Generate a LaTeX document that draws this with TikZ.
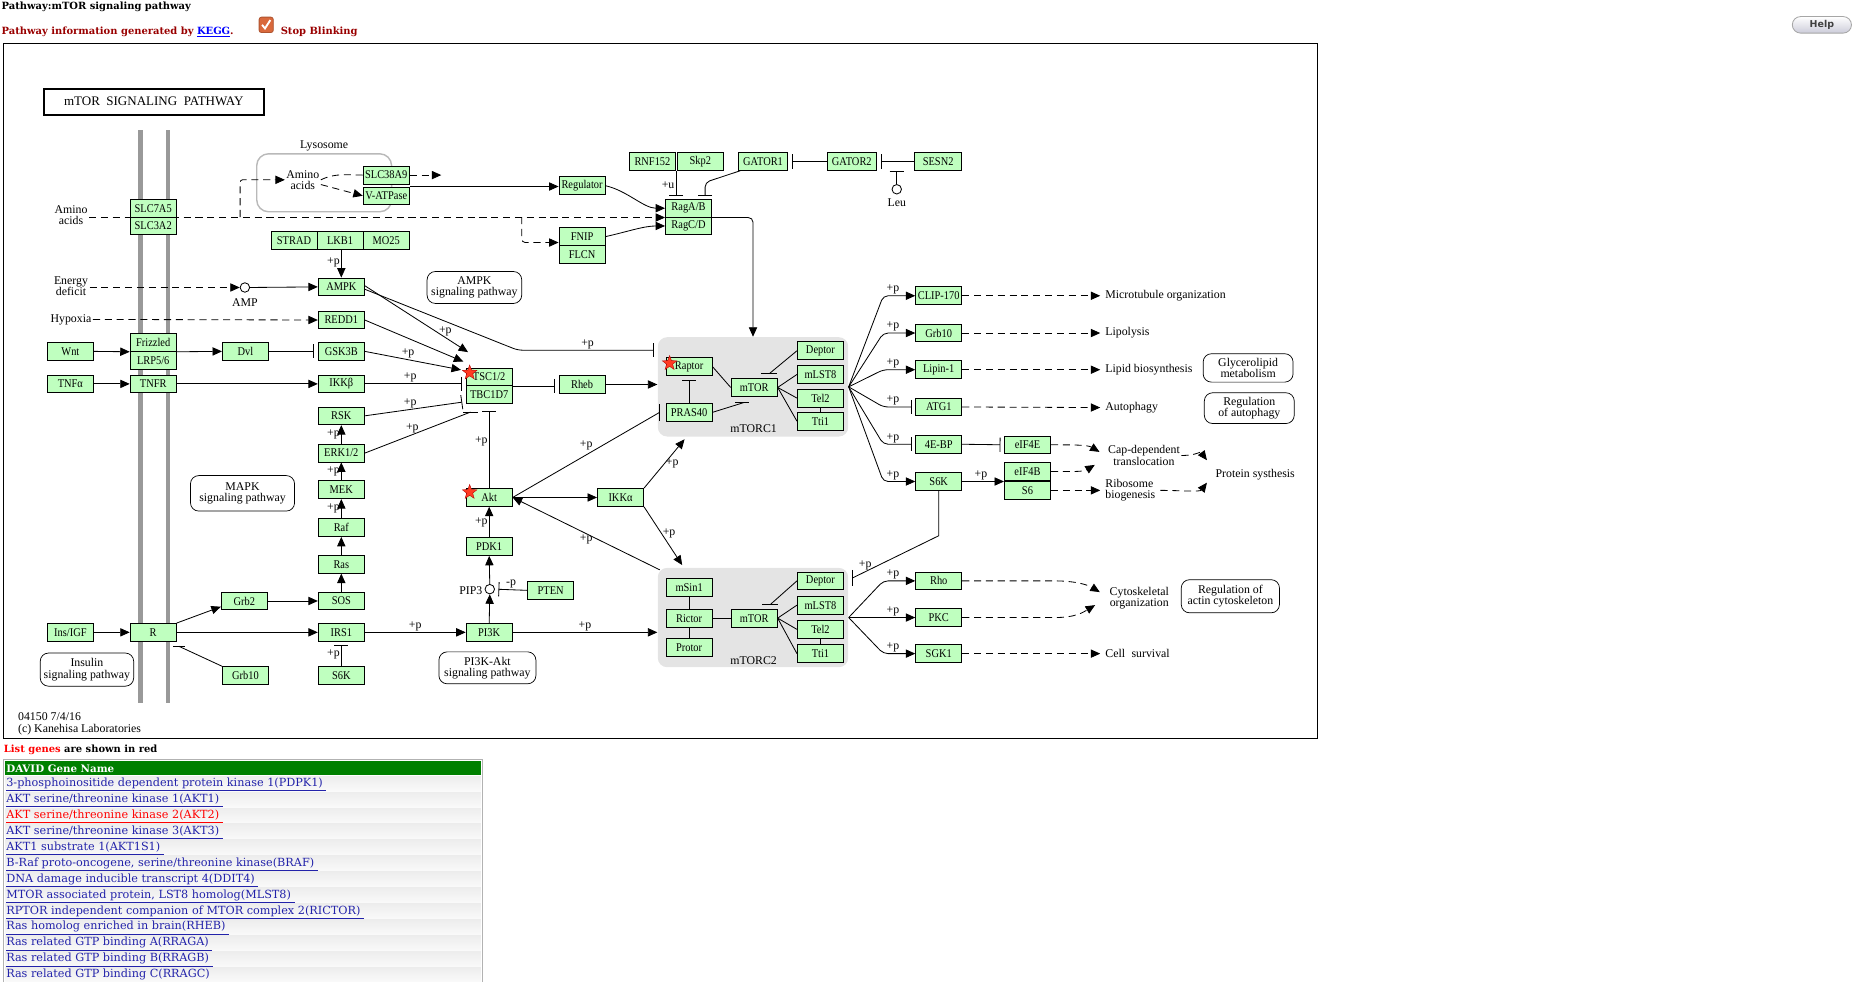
\documentclass[tikz,border=0pt]{standalone}
\usepackage{fontspec}
\setmainfont{Liberation Serif}
\newfontfamily\genefont{Liberation Serif}[FakeStretch=0.88]
\newfontfamily\webfont{DejaVu Serif}
\newfontfamily\btnfont{DejaVu Sans}
\usetikzlibrary{arrows.meta,shapes.geometric,calc}

\definecolor{genegreen}{HTML}{BFFFBF}
\definecolor{complexgray}{HTML}{E4E4E4}
\definecolor{webred}{HTML}{990000}
\definecolor{linkblue}{HTML}{2222AA}
\definecolor{davidgreen}{HTML}{008000}
\definecolor{starred}{HTML}{FF3B22}
\definecolor{boxorange}{HTML}{D9693C}

\tikzset{
  gene/.style={draw, fill=genegreen, line width=0.7pt, minimum width=39pt, minimum height=15pt,
    inner sep=0pt, font=\genefont\fontsize{10}{10}\selectfont},
  complex/.style={fill=complexgray, rounded corners=8pt, minimum width=161pt, minimum height=84pt},
  txt/.style={inner sep=1pt, align=center, font=\fontsize{10}{9.5}\selectfont},
  outc/.style={txt, anchor=west, inner xsep=4pt},
  lbl/.style={inner sep=1pt, font=\fontsize{10}{10}\selectfont},
  mapbox/.style={draw, rounded corners=7pt, align=center, inner sep=1pt, line width=0.6pt,
    font=\fontsize{10}{9.5}\selectfont},
  cpd/.style={circle, draw, fill=white, inner sep=0pt, minimum size=8pt, line width=0.7pt},
  redstar/.style={star, star points=5, star point ratio=2.4, fill=starred, draw=red!70!black,
    line width=0.3pt, minimum size=13pt, inner sep=0pt},
  act/.style={line width=0.7pt, -{Triangle[length=8pt,width=7pt]}},
  dact/.style={line width=0.7pt, dash pattern=on 6pt off 4pt, -{Triangle[length=8pt,width=7pt]}},
  dline/.style={line width=0.7pt, dash pattern=on 6pt off 4pt},
  inh/.style={line width=0.7pt, -{Bar[width=12pt]}, shorten >=3pt},
  membrane/.style={line width=4pt, gray!80},
  web/.style={inner sep=1pt, font=\webfont\fontsize{8.4}{9}\selectfont},
  link/.style={inner sep=1pt, anchor=west, text=linkblue, font=\webfont\fontsize{9.5}{10}\selectfont},
  rowband/.style={top color=gray!14, middle color=white, bottom color=gray!4}
}

\begin{document}
\begin{tikzpicture}[x=1pt, y=-1pt, line width=0.7pt]
\useasboundingbox (0,0) rectangle (1568,830);

% page header
\node[web, anchor=west] (pagetitle) at (0,5.5) {\bfseries Pathway:mTOR signaling pathway};
\node[web, anchor=west, text=webred] (info) at (0,27) {\bfseries Pathway information generated by \textcolor{blue}{\underline{KEGG}}.};
\node[draw=boxorange!80!black, fill=boxorange, rounded corners=2pt, minimum width=12pt, minimum height=13pt, inner sep=0pt] (chk) at (225,21) {};
\draw[white, line width=1.6pt] ($(chk)+(-3.5,0)$) -- ($(chk)+(-1,3)$) -- ($(chk)+(3.5,-4)$);
\node[web, anchor=west, text=webred] (stopblink) at (236,27) {\bfseries Stop Blinking};
\node[draw=gray!70, rounded corners=7pt, top color=white, bottom color=blue!15!gray!35, minimum width=50pt,
  minimum height=14pt, inner sep=0pt, text=black!75, font=\btnfont\bfseries\fontsize{8}{8}\selectfont] (help) at (1540,21) {Help};

% map frame
\draw[line width=0.8pt] (3,37) rectangle (1114,624);
\node[draw, line width=1.4pt, minimum width=186pt, minimum height=22pt, inner sep=0pt,
  font=\fontsize{11}{12}\selectfont] (title) at (130,86) {mTOR\ \ SIGNALING\ \ PATHWAY};

% cell membrane and lysosome
\draw[membrane] (119,110) -- (119,594);
\draw[membrane] (142,110) -- (142,594);
\draw[gray!55, line width=1.2pt, rounded corners=10pt] (217,130) rectangle (331,179);
\node[txt] (lysolbl) at (274,123) {Lysosome};

% complexes
\node[complex] (mtorc1) at (636.5,327) {};
\node[complex] (mtorc2) at (636.5,522) {};
\node[txt] (mtorc1lbl) at (637,362) {mTORC1};
\node[txt] (mtorc2lbl) at (637,558) {mTORC2};

% genes
\node[gene] (slc7a5) at (129.5,176) {SLC7A5};
\node[gene] (slc3a2) at (129.5,191) {SLC3A2};
\node[gene] (frizzled) at (129.5,289.5) {Frizzled};
\node[gene] (lrp) at (129.5,304.5) {LRP5/6};
\node[gene] (tnfr) at (129.5,324.5) {TNFR};
\node[gene] (rrec) at (129.5,534.5) {R};
\node[gene] (wnt) at (59.5,297) {Wnt};
\node[gene] (tnfa) at (59.5,324.5) {TNFα};
\node[gene] (insigf) at (59.5,534.5) {Ins/IGF};
\node[gene] (dvl) at (207.5,297) {Dvl};
\node[gene] (grb2) at (206.5,508) {Grb2};
\node[gene] (grb10a) at (207.5,571) {Grb10};

\node[gene] (strad) at (248.5,203) {STRAD};
\node[gene] (lkb1) at (287.5,203) {LKB1};
\node[gene] (mo25) at (326.5,203) {MO25};
\node[gene] (ampk) at (288.5,242.5) {AMPK};
\node[gene] (redd1) at (288.5,270.5) {REDD1};
\node[gene] (gsk3b) at (288.5,297) {GSK3B};
\node[gene] (ikkb) at (288.5,324.5) {IKKβ};
\node[gene] (rsk) at (288.5,351.5) {RSK};
\node[gene] (erk) at (288.5,383) {ERK1/2};
\node[gene] (mek) at (288.5,414) {MEK};
\node[gene] (raf) at (288.5,446) {Raf};
\node[gene] (ras) at (288.5,477) {Ras};
\node[gene] (sos) at (288.5,508) {SOS};
\node[gene] (irs1) at (288.5,534.5) {IRS1};
\node[gene] (s6kb) at (288.5,571) {S6K};

\node[gene] (tsc) at (413.5,318.5) {TSC1/2};
\node[gene] (tbc) at (413.5,333.5) {TBC1D7};
\node[gene] (akt) at (413.5,420.5) {Akt};
\node[gene] (pdk1) at (413.5,462) {PDK1};
\node[gene] (pi3k) at (413.5,534.5) {PI3K};
\node[gene] (pten) at (465.5,499) {PTEN};
\node[gene] (ikka) at (524.5,420.5) {IKKα};
\node[gene] (rheb) at (492,325) {Rheb};

\node[gene] (slc38) at (326.5,148) {SLC38A9};
\node[gene] (vatp) at (326.5,165.5) {V-ATPase};
\node[gene] (regulator) at (492,157) {Regulator};
\node[gene] (fnip) at (492,200) {FNIP};
\node[gene] (flcn) at (492,215) {FLCN};
\node[gene] (ragab) at (582,176) {RagA/B};
\node[gene] (ragcd) at (582,191) {RagC/D};
\node[gene] (rnf152) at (551.5,136.5) {RNF152};
\node[gene] (skp2) at (592,136.5) {Skp2};
\node[gene, minimum width=42pt] (gator1) at (645,136.5) {GATOR1};
\node[gene, minimum width=42pt] (gator2) at (720,136.5) {GATOR2};
\node[gene, minimum width=40pt] (sesn2) at (793,136.5) {SESN2};

\node[gene] (raptor) at (582.5,310) {Raptor};
\node[gene] (pras40) at (582.5,348.5) {PRAS40};
\node[gene] (mtor1) at (637.5,327.5) {mTOR};
\node[gene] (deptor1) at (693.5,296.5) {Deptor};
\node[gene] (mlst1) at (693.5,316.5) {mLST8};
\node[gene] (tel1) at (693.5,336.5) {Tel2};
\node[gene] (tti1) at (693.5,356) {Tti1};

\node[gene] (msin1) at (582.5,496.5) {mSin1};
\node[gene] (rictor) at (582.5,522.5) {Rictor};
\node[gene] (protor) at (582.5,547.5) {Protor};
\node[gene] (mtor2) at (637.5,522.5) {mTOR};
\node[gene] (deptor2) at (693.5,491) {Deptor};
\node[gene] (mlst2) at (693.5,511.5) {mLST8};
\node[gene] (tel2b) at (693.5,532) {Tel2};
\node[gene] (tti2) at (693.5,552.5) {Tti1};

\node[gene] (clip) at (793.5,250) {CLIP-170};
\node[gene] (grb10b) at (793.5,281.5) {Grb10};
\node[gene] (lipin) at (793.5,312.5) {Lipin-1};
\node[gene] (atg1) at (793.5,344) {ATG1};
\node[gene] (ebp) at (793.5,375.5) {4E-BP};
\node[gene] (s6ka) at (793.5,407) {S6K};
\node[gene] (eif4e) at (868.5,376) {eIF4E};
\node[gene] (eif4b) at (868.5,398.5) {eIF4B};
\node[gene] (s6) at (868.5,414.5) {S6};
\node[gene] (rho) at (793.5,491) {Rho};
\node[gene] (pkc) at (793.5,522) {PKC};
\node[gene] (sgk1) at (793.5,552.5) {SGK1};

% compounds and free text
\node[cpd] (amp) at (207,243) {};
\node[cpd] (leu) at (758,160) {};
\node[cpd] (pip3) at (414,498) {};
\node[txt] (amplbl) at (207,256) {AMP};
\node[txt] (leulbl) at (758,171) {Leu};
\node[txt, anchor=east] (pip3lbl) at (409,499) {PIP3};
\node[txt] (aaout) at (60,182) {Amino\\acids};
\node[txt] (aain) at (256,152) {Amino\\acids};
\node[txt] (energy) at (60,242) {Energy\\deficit};
\node[txt] (hypoxia) at (60,270) {Hypoxia};

\node[outc] (microtub) at (930,250) {Microtubule organization};
\node[outc] (lipolysis) at (930,281.5) {Lipolysis};
\node[outc] (lipidbio) at (930,312.5) {Lipid biosynthesis};
\node[outc] (autophagy) at (930,344.5) {Autophagy};
\node[outc, align=left] (ribo) at (930,414.5) {Ribosome\\biogenesis};
\node[outc] (cellsurv) at (930,552.5) {Cell\hspace{3pt} survival};
\node[txt] (capdep) at (967,385) {Cap-dependent\\translocation};
\node[txt] (protsyn) at (1061,401) {Protein systhesis};
\node[txt] (cytoskel) at (963,505.5) {Cytoskeletal\\organization};

% linked pathway maps
\node[mapbox, minimum width=80pt, minimum height=27pt] (ampkmap) at (401,243) {AMPK\\signaling pathway};
\node[mapbox, minimum width=88pt, minimum height=30pt] (mapkmap) at (205,417) {MAPK\\signaling pathway};
\node[mapbox, minimum width=79pt, minimum height=28pt] (insmap) at (73.5,566) {Insulin\\signaling pathway};
\node[mapbox, minimum width=82pt, minimum height=27pt] (pi3kmap) at (412,564.5) {PI3K-Akt\\signaling pathway};
\node[mapbox, minimum width=76pt, minimum height=24pt] (glymap) at (1055,311) {Glycerolipid\\metabolism};
\node[mapbox, minimum width=76pt, minimum height=26pt] (autmap) at (1056,345) {Regulation\\of autophagy};
\node[mapbox, minimum width=83pt, minimum height=28pt] (actmap) at (1040,504) {Regulation of\\actin cytoskeleton};

% amino acid sensing
\coordinate (lysbr) at (203,183.5);
\coordinate (fnipbr) at (441,183.5);
\coordinate (slcout) at (373,148);
\draw[dact] (aaout.east |- ragab.south west) -- (ragab.south west);
\draw[dact, rounded corners=2pt] (lysbr) |- (aain.west);
\draw[dact, rounded corners=3pt] (fnipbr) |- ($(fnip.west)+(0,5)$);
\draw[dline] (aain.east) .. controls +(12,-6) and +(-12,0) .. (slc38.west);
\draw[dact] ($(aain.east)+(0,4)$) -- (vatp.west);
\draw[dact] (slc38.east) -- (slcout);
\draw[act] (vatp.north east) -- (vatp.north east -| regulator.west);
\draw[act] (regulator.east) .. controls +(18,4) and +(-18,0) .. (ragab.west);
\draw[act] (fnip.east) .. controls +(18,-4) and +(-18,0) .. (ragcd.west);
\draw[act, rounded corners=4pt] (ragab.south east) -| (mtorc1.north);
\draw[inh] (rnf152.south east) -- node[lbl, left, pos=.5] (pu) {+u} (rnf152.south east |- ragab.north);
\draw[inh, rounded corners=4pt] ($(gator1.south west)+(2,0)$) -- ($(ragab.north)+(14,-14)$) -- ($(ragab.north)+(14,0)$);
\draw[inh] (gator2.west) -- (gator1.east);
\draw[inh] (sesn2.west) -- (gator2.east);
\draw[-{Bar[width=12pt]}] (leu.north) -- (leu.north |- sesn2.south);

% energy, hypoxia, Wnt, TNF
\draw[act] (ampk.north |- lkb1.south) -- node[lbl, left, pos=.45] (plkb) {+p} (ampk.north);
\draw[dact] (energy.east |- amp.west) -- (amp.west);
\draw[act] (amp.east) -- (ampk.west);
\draw[dact] (hypoxia.east) -- (redd1.west);
\draw[act] (wnt.east) -- (frizzled.south west);
\draw[act] (frizzled.south east) -- (dvl.west);
\draw[inh] (dvl.east) -- (gsk3b.west);
\draw[act] (tnfa.east) -- (tnfr.west);
\draw[act] (tnfr.east) -- (ikkb.west);

% inputs to TSC
\draw[act] ($(ampk.east)+(0,-1)$) -- node[lbl, above, pos=.78] (pampk) {+p} ($(tsc.north west)+(2,-13)$);
\draw[act] (redd1.east) -- ($(tsc.north west)+(-2,-5)$);
\draw[act] (gsk3b.east) -- node[lbl, above, pos=.45] (pgsk) {+p} ($(tsc.north west)+(-4,2)$);
\draw[inh, rounded corners=4pt] ($(ampk.east)+(0,2)$) -- ($(mtorc1.west)+(-118,-31)$) -- node[lbl, above, pos=.5] (pampkr) {+p} ($(mtorc1.west)+(0,-31)$);
\draw[inh] (ikkb.east) -- node[lbl, above, pos=.45] (pikkb) {+p} (ikkb.east -| tsc.west);
\draw[inh] (rsk.east) -- node[lbl, above, pos=.45] (prsk) {+p} ($(tbc.west)+(0,6)$);
\coordinate (erkbar) at ($(tbc.south west)+(4,7)$);
\draw (erk.east) -- node[lbl, above, pos=.45] (perk) {+p} (erkbar);
\draw ($(erkbar)+(-6,0)$) -- ($(erkbar)+(6,0)$);
\draw[inh, shorten >=6pt] (akt.north) -- node[lbl, left, pos=.55] (paktt) {+p} (tbc.south);
\draw[inh] (tsc.south east) -- (tsc.south east -| rheb.west);
\draw[act] (rheb.east) -- (rheb.east -| mtorc1.west);

% Akt and PI3K
\draw[act] (akt.east) -- (ikka.west);
\coordinate (prasbar) at ($(pras40.west)+(-5,0)$);
\draw (akt.east) -- node[lbl, above=3pt, pos=.5] (paktp) {+p} (prasbar);
\draw ($(prasbar)+(0,-7)$) -- ($(prasbar)+(0,7)$);
\draw[act] (ikka.north east) -- node[lbl, right, pos=.5] (pikka1) {+p} ($(mtorc1.south west)+(23,2)$);
\draw[act] (ikka.south east) -- node[lbl, right, pos=.45] (pikka2) {+p} ($(mtorc2.north west)+(21,-2)$);
\draw[act] ($(mtorc2.north west)+(2,2)$) -- node[lbl, below, pos=.5] (pc2akt) {+p} (akt.east);
\draw[act] (pdk1.north) -- node[lbl, left, pos=.5] (ppdk) {+p} (akt.south);
\draw[act] (pip3.north) -- (pdk1.south);
\draw[act] (pi3k.north) -- (pip3.south);
\draw[inh] (pten.west) -- node[lbl, above, pos=.5] (ppten) {-p} (pip3.east);

% insulin and MAPK branch
\draw[act] (insigf.east) -- (rrec.west);
\draw[act] (rrec.north east) -- ($(grb2.south west)+(0,-3)$);
\draw[act] (rrec.east) -- (irs1.west);
\draw[act] (grb2.east) -- (sos.west);
\draw[act] (sos.north) -- (ras.south);
\draw[act] (ras.north) -- (raf.south);
\draw[act] (raf.north) -- node[lbl, left] (praf) {+p} (mek.south);
\draw[act] (mek.north) -- node[lbl, left] (pmek) {+p} (erk.south);
\draw[act] (erk.north) -- node[lbl, left] (perkr) {+p} (rsk.south);
\draw[act] (irs1.east) -- node[lbl, above] (pirs) {+p} (pi3k.west);
\draw[act] (pi3k.east) -- node[lbl, above] (ppi3k) {+p} (pi3k.east -| mtorc2.west);
\coordinate (grbbar) at ($(rrec.south east)+(2,4)$);
\draw (grb10a.north west) -- (grbbar);
\draw ($(grbbar)+(-5,0)$) -- ($(grbbar)+(5,0)$);
\draw[inh] (s6kb.north) -- node[lbl, left, pos=.5] (ps6kb) {+p} (irs1.south);

% inside mTORC1
\draw (raptor.east) -- (mtor1.west);
\draw[inh] (pras40.north) -- (raptor.south);
\coordinate (mtorbar1) at ($(mtor1.south)+(-9,5)$);
\draw (pras40.east) -- (mtorbar1);
\draw ($(mtorbar1)+(-7,0)$) -- ($(mtorbar1)+(5,0)$);
\coordinate (deptbar1) at ($(mtor1.north)+(13,-4)$);
\draw (deptor1.west) -- (deptbar1);
\draw ($(deptbar1)+(-7,0)$) -- ($(deptbar1)+(6,0)$);
\draw (mtor1.east) -- (mlst1.west);
\draw (mtor1.east) -- (tel1.west);
\draw (mtor1.east) -- (tti1.west);
\draw (tel1.south) -- (tti1.north);

% inside mTORC2
\draw (msin1.south) -- (rictor.north);
\draw (rictor.south) -- (protor.north);
\draw (rictor.east) -- (mtor2.west);
\coordinate (deptbar2) at ($(mtor2.north)+(14,-4)$);
\draw (deptor2.west) -- (deptbar2);
\draw ($(deptbar2)+(-7,0)$) -- ($(deptbar2)+(6,0)$);
\draw (mtor2.east) -- (mlst2.west);
\draw (mtor2.east) -- (tel2b.west);
\draw (mtor2.east) -- (tti2.west);
\draw (tel2b.south) -- (tti2.north);

% mTORC1 targets
\coordinate (fan1) at (mtorc1.east);
\draw[act, rounded corners=4pt] (fan1) -- ($(clip.west)+(-27,0)$) -- node[lbl, above, pos=.3] (pclip) {+p} (clip.west);
\draw[act, rounded corners=4pt] (fan1) -- ($(grb10b.west)+(-27,0)$) -- node[lbl, above, pos=.3] (pgrb) {+p} (grb10b.west);
\draw[act, rounded corners=4pt] (fan1) -- ($(lipin.west)+(-27,0)$) -- node[lbl, above, pos=.3] (plip) {+p} (lipin.west);
\draw[inh, rounded corners=4pt] (fan1) -- ($(atg1.west)+(-27,0)$) -- node[lbl, above, pos=.3] (patg) {+p} (atg1.west);
\draw[inh, rounded corners=4pt] (fan1) -- ($(ebp.west)+(-27,0)$) -- node[lbl, above, pos=.3] (pebp) {+p} (ebp.west);
\draw[act, rounded corners=4pt] (fan1) -- ($(s6ka.west)+(-27,0)$) -- node[lbl, above, pos=.3] (ps6k) {+p} (s6ka.west);
\draw[dact] (clip.east) -- (microtub.west);
\draw[dact] (grb10b.east) -- (lipolysis.west);
\draw[dact] (lipin.east) -- (lipidbio.west);
\draw[dact] (atg1.east) -- (autophagy.west);
\draw[inh] (ebp.east) -- (eif4e.west);
\draw[act] (s6ka.east) -- node[lbl, above, pos=.45] (ps6kf) {+p} (s6ka.east -| eif4b.west);
\draw[dact] (s6.east) -- (ribo.west);
\coordinate (capin1) at ($(capdep.west)+(-6,-3)$);
\coordinate (capin2) at ($(capdep.west)+(-10,8)$);
\draw[dact] (eif4e.east) .. controls +(18,0) and +(-10,-6) .. (capin1);
\draw[dact] (eif4b.east) .. controls +(18,0) and +(-10,6) .. (capin2);
\coordinate (protin1) at ($(protsyn.west)+(-6,-12)$);
\coordinate (protin2) at ($(protsyn.west)+(-6,7)$);
\draw[dact] (capdep.east) .. controls +(14,0) and +(-6,-8) .. (protin1);
\draw[dact] (ribo.east) .. controls +(16,0) and +(-6,8) .. (protin2);
\coordinate (s6kbar) at ($(mtorc2.north east)+(3,9)$);
\draw (s6ka.south) -- ($(s6ka.south)+(0,38)$) -- node[lbl, above, pos=.85] (ps6kc2) {+p} (s6kbar);
\draw ($(s6kbar)+(0,-7)$) -- ($(s6kbar)+(0,7)$);

% mTORC2 targets
\coordinate (fan2) at (mtorc2.east);
\draw[act, rounded corners=4pt] (fan2) -- ($(rho.west)+(-27,0)$) -- node[lbl, above, pos=.3] (prho) {+p} (rho.west);
\draw[act, rounded corners=4pt] (fan2) -- ($(pkc.west)+(-27,0)$) -- node[lbl, above, pos=.3] (ppkc) {+p} (pkc.west);
\draw[act, rounded corners=4pt] (fan2) -- ($(sgk1.west)+(-27,0)$) -- node[lbl, above, pos=.3] (psgk) {+p} (sgk1.west);
\coordinate (cytin1) at ($(cytoskel.west)+(-7,-5)$);
\coordinate (cytin2) at ($(cytoskel.west)+(-11,6)$);
\draw[dact] (rho.east) -- ++(78,0) .. controls +(18,0) and +(-10,-6) .. (cytin1);
\draw[dact] (pkc.east) -- ++(78,0) .. controls +(18,0) and +(-10,6) .. (cytin2);
\draw[dact] (sgk1.east) -- (cellsurv.west);

% list genes
\node[redstar] (startsc) at (397,315) {};
\node[redstar] (starakt) at (397,416) {};
\node[redstar] (starraptor) at (566,307) {};

\node[txt, anchor=west] (mapid) at (14,606) {04150 7/4/16};
\node[txt, anchor=west] (copyr) at (14,616.5) {(c) Kanehisa Laboratories};

% DAVID gene table
\node[web, anchor=west] (listnote) at (2,633.5) {\bfseries\textcolor{red}{List genes} are shown in red};
\draw[gray!60, line width=1pt] (3,830) -- (3,642) -- (408,642) -- (408,830);
\fill[davidgreen] (4.5,643.5) rectangle (406.5,655.5);
\node[web, anchor=west, text=white, font=\webfont\bfseries\fontsize{8.7}{9}\selectfont] (tablehead) at (4,649.5) {DAVID Gene Name};
\shade[rowband] (4.5,656) rectangle (406.5,669);
\shade[rowband] (4.5,669.5) rectangle (406.5,682.5);
\shade[rowband] (4.5,683) rectangle (406.5,696);
\shade[rowband] (4.5,696.5) rectangle (406.5,709.5);
\shade[rowband] (4.5,710) rectangle (406.5,723);
\shade[rowband] (4.5,723.5) rectangle (406.5,736.5);
\shade[rowband] (4.5,737) rectangle (406.5,750);
\shade[rowband] (4.5,750.5) rectangle (406.5,763.5);
\shade[rowband] (4.5,764) rectangle (406.5,777);
\shade[rowband] (4.5,777.5) rectangle (406.5,790.5);
\shade[rowband] (4.5,791) rectangle (406.5,804);
\shade[rowband] (4.5,804.5) rectangle (406.5,817.5);
\shade[rowband] (4.5,818) rectangle (406.5,830);
\node[link] (row01) at (4,663) {\underline{3-phosphoinositide dependent protein kinase 1(PDPK1)\ }};
\node[link] (row02) at (4,676.5) {\underline{AKT serine/threonine kinase 1(AKT1)\ }};
\node[link, text=red] (row03) at (4,690) {\underline{AKT serine/threonine kinase 2(AKT2)\ }};
\node[link] (row04) at (4,703.5) {\underline{AKT serine/threonine kinase 3(AKT3)\ }};
\node[link] (row05) at (4,717) {\underline{AKT1 substrate 1(AKT1S1)\ }};
\node[link] (row06) at (4,730.5) {\underline{B-Raf proto-oncogene, serine/threonine kinase(BRAF)\ }};
\node[link] (row07) at (4,744) {\underline{DNA damage inducible transcript 4(DDIT4)\ }};
\node[link] (row08) at (4,757.5) {\underline{MTOR associated protein, LST8 homolog(MLST8)\ }};
\node[link] (row09) at (4,771) {\underline{RPTOR independent companion of MTOR complex 2(RICTOR)\ }};
\node[link] (row10) at (4,784.5) {\underline{Ras homolog enriched in brain(RHEB)\ }};
\node[link] (row11) at (4,798) {\underline{Ras related GTP binding A(RRAGA)\ }};
\node[link] (row12) at (4,811.5) {\underline{Ras related GTP binding B(RRAGB)\ }};
\node[link] (row13) at (4,825) {\underline{Ras related GTP binding C(RRAGC)\ }};
\end{tikzpicture}
\end{document}
